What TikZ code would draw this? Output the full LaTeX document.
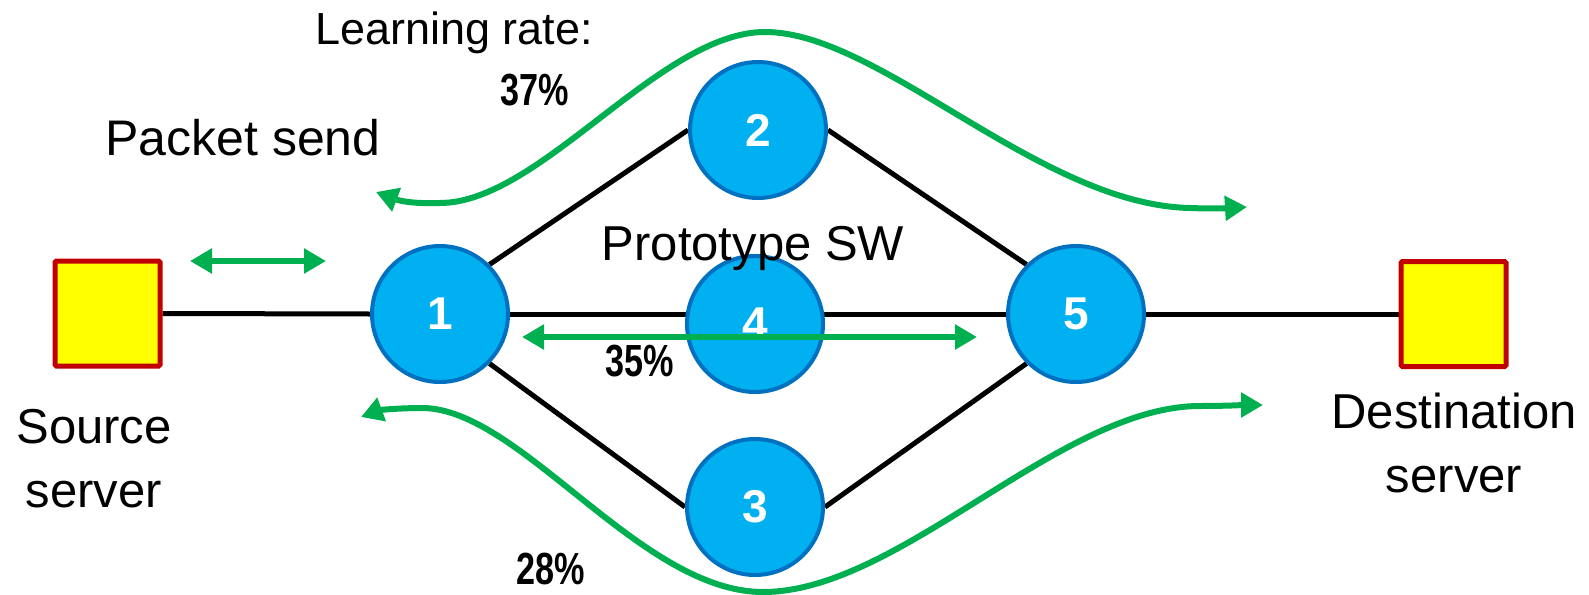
\documentclass[tikz,border=0pt]{standalone}
\usepackage{fontspec}
\setmainfont{Liberation Sans}
\newfontfamily\pctfont[FakeStretch=0.76]{Liberation Sans}
\usetikzlibrary{arrows.meta,backgrounds}

\definecolor{swfill}{HTML}{00B0F0}
\definecolor{swline}{HTML}{0070C0}
\definecolor{flow}{HTML}{00B050}
\definecolor{hostfill}{HTML}{FFFF00}
\definecolor{hostline}{HTML}{C00000}

\tikzset{
  switch/.style={circle, fill=swfill, draw=swline, line width=4pt,
    minimum size=136pt, inner sep=0pt, text=white,
    font=\fontsize{46}{46}\selectfont\bfseries},
  host/.style={rectangle, fill=hostfill, draw=hostline, line width=5pt,
    minimum size=105pt, inner sep=0pt, rounded corners=1.5pt},
  link/.style={line width=5pt, black},
  flowarrow/.style={line width=6pt, flow,
    {Triangle[length=22pt,width=24pt]}-{Triangle[length=22pt,width=24pt]}},
  label/.style={anchor=base, inner sep=0pt, font=\fontsize{49}{49}\selectfont},
  pct/.style={anchor=base, inner sep=0pt, font=\fontsize{45}{45}\selectfont\pctfont\bfseries},
}

\begin{document}
\begin{tikzpicture}[x=1pt, y=-1pt]
\useasboundingbox (0,0) rectangle (1589,594);

% hosts and switches
\node[host] (src) at (107.5,313.5) {};
\node[host] (dst) at (1453.5,314) {};
\node[switch] (n1) at (440,314) {1};
\node[switch] (n2) at (758,130) {2};
\node[switch] (n4) at (755,324) {4};
\node[switch] (n3) at (755,507) {3};
\node[switch] (n5) at (1076,314) {5};

% links behind the switches
\begin{scope}[on background layer]
  \draw[link] (src.east) -- (n1.west);
  \draw[link] (n1.east) -- (n5.west);
  \draw[link] (n1.45) -- (n2.west);
  \draw[link] (n1.-45) -- (n3.west);
  \draw[link] (n2.east) -- (n5.135);
  \draw[link] (n3.east) -- (n5.-135);
  \draw[link] (n5.east) -- (dst.west);
\end{scope}

% traffic flows
\coordinate (sendL) at (190,261);
\coordinate (sendR) at (326,261);
\draw[flowarrow] (sendL) -- (sendR);

\coordinate (midL) at (522,337);
\coordinate (midR) at (977,337);
\draw[flowarrow] (midL) -- (midR);

% flow over switch 2
\coordinate (upL) at (376,192);
\coordinate (upR) at (1247,207);
\draw[flowarrow] (upL)
  .. controls (400,201) and (415,204) .. (440,203)
  .. controls (540,203) and (660,32) .. (765,32)
  .. controls (880,32) and (1040,205) .. (1190,208)
  .. controls (1215,209) and (1230,208) .. (upR);

% flow under switch 3
\coordinate (loL) at (361,417);
\coordinate (loR) at (1263,405);
\draw[flowarrow] (loL)
  .. controls (380,410) and (400,408) .. (422,408)
  .. controls (520,408) and (640,592) .. (763,592)
  .. controls (900,592) and (1060,406) .. (1200,406)
  .. controls (1225,406) and (1245,405) .. (loR);

% labels
\node[label, font=\fontsize{45}{45}\selectfont] (lr) at (454,45) {Learning rate:};
\node[pct] (p37) at (535,105) {37\%};
\node[label, font=\fontsize{50}{50}\selectfont] (ps) at (243,155) {Packet send};
\node[label] (proto) at (753,260) {Prototype SW};
\node[pct] (p35) at (640,376) {35\%};
\node[pct] (p28) at (551,584) {28\%};
\node[label] (srcA) at (94,443) {Source};
\node[label] (srcB) at (94,507) {server};
\node[label] (dstA) at (1454,428) {Destination};
\node[label] (dstB) at (1454,492) {server};
\end{tikzpicture}
\end{document}
